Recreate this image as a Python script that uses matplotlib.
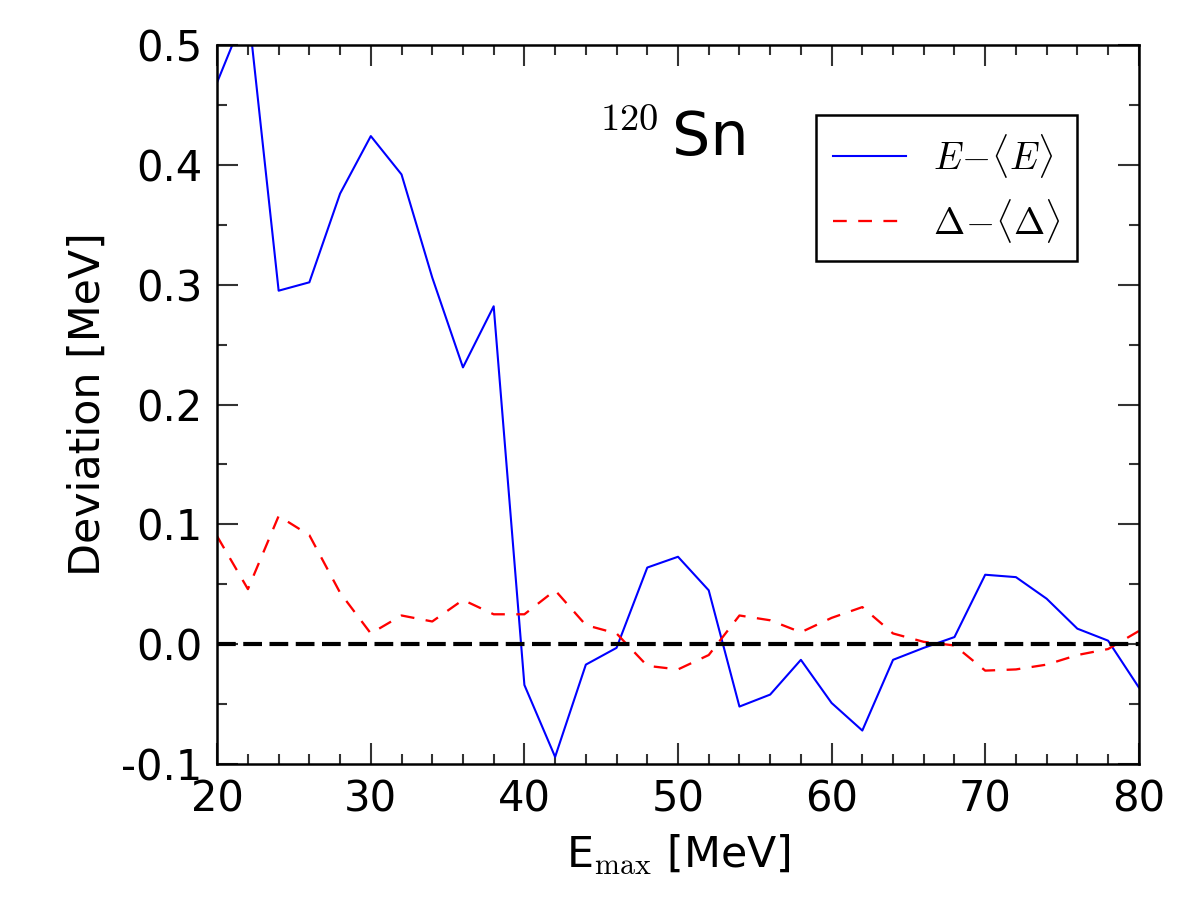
"""Deviation of E and Delta from their means vs. E_max for 120Sn."""

import matplotlib

matplotlib.use("Agg")
import matplotlib.pyplot as plt
from matplotlib.ticker import FuncFormatter, MultipleLocator

plt.rcParams["font.family"] = "DejaVu Sans"
plt.rcParams["mathtext.fontset"] = "cm"
plt.rcParams["axes.unicode_minus"] = False

# E_max grid [MeV]
e_max = [20, 22, 24, 26, 28, 30, 32, 34, 36, 38, 40, 42, 44, 46, 48, 50,
         52, 54, 56, 58, 60, 62, 64, 66, 68, 70, 72, 74, 76, 78, 80]

# E - <E> [MeV]
dev_energy = [0.469, 0.532, 0.295, 0.302, 0.376, 0.424, 0.392, 0.306, 0.231, 0.282,
              -0.034, -0.094, -0.017, -0.003, 0.064, 0.073, 0.045, -0.052, -0.042,
              -0.013, -0.049, -0.072, -0.013, -0.003, 0.006, 0.058, 0.056, 0.038,
              0.013, 0.003, -0.036]

# Delta - <Delta> [MeV]
dev_gap = [0.090, 0.046, 0.107, 0.091, 0.043, 0.009, 0.024, 0.019, 0.037, 0.025,
           0.025, 0.045, 0.016, 0.009, -0.018, -0.021, -0.009, 0.024, 0.020,
           0.010, 0.022, 0.031, 0.009, 0.002, -0.001, -0.022, -0.021, -0.017,
           -0.009, -0.004, 0.011]

fig = plt.figure(figsize=(8, 6), dpi=150)
ax = fig.add_axes([0.181, 0.151, 0.768, 0.799])

ax.plot(e_max, dev_energy, color="blue", lw=1.0, label=r"$E\!-\!\langle E\rangle$")
ax.plot(e_max, dev_gap, color="red", lw=1.1, ls="--", dashes=(6, 5),
        label=r"$\Delta\!-\!\langle \Delta\rangle$")
ax.axhline(0.0, color="black", lw=2.0, ls="--", dashes=(4.5, 1.8))

ax.set_xlim(20, 80)
ax.set_ylim(-0.1, 0.5)
ax.xaxis.set_major_locator(MultipleLocator(10))
ax.xaxis.set_minor_locator(MultipleLocator(2))
ax.yaxis.set_major_locator(MultipleLocator(0.1))
ax.yaxis.set_minor_locator(MultipleLocator(0.05))
ax.yaxis.set_major_formatter(FuncFormatter(lambda v, p: f"{v:.1f}" if abs(v) > 1e-9 else "0.0"))
ax.tick_params(which="both", direction="in", top=True, right=True,
               color="#333333", width=1.0)
ax.tick_params(which="major", length=10, labelsize=20, pad=7)
ax.tick_params(which="minor", length=5)
for spine in ax.spines.values():
    spine.set_linewidth(1.2)

ax.set_xlabel(r"E$_{\rm max}$ [MeV]", fontsize=20.5, labelpad=6)
ax.set_ylabel("Deviation [MeV]", fontsize=20.5, labelpad=6)

# nucleus label: mass number and symbol
ax.text(44.9, 0.4294, r"$\mathrm{120}$", fontsize=18.5, ha="left", va="baseline")
ax.text(49.6, 0.4085, "Sn", fontsize=29, ha="left", va="baseline")

leg = ax.legend(loc="upper right", bbox_to_anchor=(0.933, 0.903), fontsize=18,
                handlelength=1.95, handletextpad=0.72, borderpad=0.45,
                borderaxespad=0.0, labelspacing=0.45, fancybox=False,
                framealpha=1.0)
leg.get_frame().set_edgecolor("black")
leg.get_frame().set_linewidth(1.2)

fig.savefig("out.png", dpi=150)
